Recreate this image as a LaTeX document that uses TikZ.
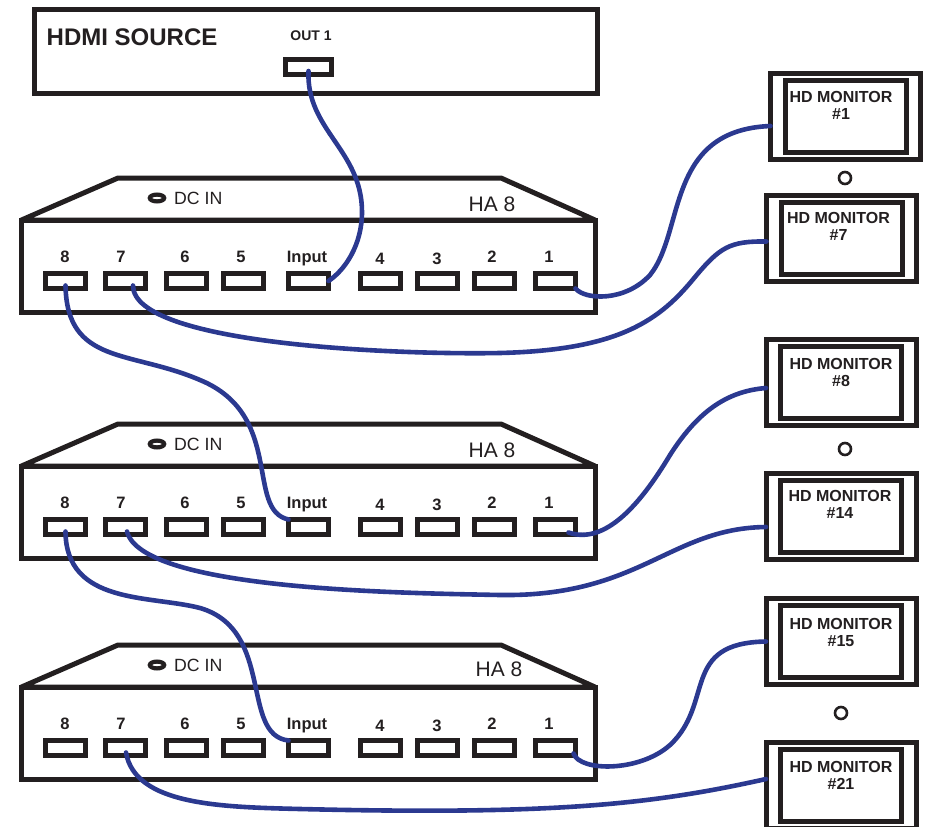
\documentclass[tikz,border=0pt]{standalone}
\usepackage{fontspec}
\setmainfont{Liberation Sans}
\usetikzlibrary{calc}
\definecolor{ink}{HTML}{231F20}
\definecolor{wire}{HTML}{2B3990}
\newcommand{\fs}[1]{\fontsize{#1}{#1}\selectfont}
\tikzset{
  frame/.style={draw=ink,line width=5pt,fill=white,rectangle,inner sep=0pt,outer sep=0pt,miter limit=10},
  portbox/.style={frame,minimum width=40pt,minimum height=15pt},
  screenouter/.style={frame,minimum width=150pt,minimum height=86pt},
  screeninner/.style={frame,minimum width=121pt,minimum height=72pt},
  plabel/.style={text=ink,font=\bfseries\fs{16.5},inner sep=0pt},
  mlabel/.style={text=ink,font=\bfseries\fs{16},inner sep=0pt,align=center},
  plain/.style={text=ink,inner sep=0pt},
  ring/.style={draw=ink,line width=2.6pt,fill=white,circle,minimum size=12pt,inner sep=0pt},
  cable/.style={draw=wire,line width=4.6pt,line cap=round}
}
% #1 prefix, #2 y offset, #3 HA label x, #4 HA label y, #5 DC y
\newcommand{\hub}[5]{%
  \begin{scope}[shift={(0,#2)}]
    \draw[draw=ink,line width=5pt,fill=white,miter limit=10,line join=round]
      (21.5,220) -- (118,178) -- (501,178) -- (595,220) -- cycle;
    \node[frame,minimum width=573.5pt,minimum height=92pt] (#1body) at (308.25,266) {};
    \foreach \n/\x in {8/65.5,7/125,6/186,5/243,in/308.5,4/380,3/437,2/494,1/555.5}{
      \node[portbox] (#1p\n) at (\x,281) {};
    }
    \foreach \n/\t/\lx/\ly in {a/8/65/257,b/7/121/257,c/6/185/257,d/5/241/257,e/Input/307/258.5,f/4/380/259,g/3/437/259,h/2/492/257,i/1/549/257}{
      \node[plabel] (#1lab\n) at (\lx,\ly) {\t};
    }
    \draw[draw=ink,line width=4.2pt] (157,#5) ellipse (7.2pt and 3.4pt);
    \node[plain,font=\fs{17.7},anchor=west] (#1dc) at (174,#5) {DC IN};
    \node[plain,font=\fs{21}] (#1ha) at (#3,#4) {HA 8};
  \end{scope}%
}
% #1 name, #2 frame centre, #3 text centre, #4 text
\newcommand{\screen}[4]{%
  \node[screenouter] (#1o) at #2 {};
  \node[screeninner] (#1i) at #2 {};
  \node[mlabel] (#1t) at #3 {#4};
}
\begin{document}
\begin{tikzpicture}[x=1pt,y=-1pt]
\useasboundingbox (0,0) rectangle (927,827);
% source
\node[frame,minimum width=563pt,minimum height=84pt] (source) at (315.5,51) {};
\node[plain,font=\bfseries\fs{24},anchor=west] (srctitle) at (46.5,37) {HDMI SOURCE};
\node[plain,font=\bfseries\fs{14},yshift=0pt] (srcout) at (311,36) {OUT 1};
\node[portbox,minimum width=45.5pt] (out) at (308.5,66.5) {};
% hubs
\hub{A}{0}{492}{204}{198}
\hub{B}{246}{492}{204}{198}
\hub{C}{467}{499}{202}{198}
% monitors
\screen{m1}{(845.5,116)}{(841,105)}{HD MONITOR\\[1pt]\#1}
\screen{m7}{(841.5,238)}{(838.5,226.5)}{HD MONITOR\\[1pt]\#7}
\screen{m8}{(841,382)}{(841,372.5)}{HD MONITOR\\[1pt]\#8}
\screen{m14}{(841,516.5)}{(840,504.5)}{HD MONITOR\\[1pt]\#14}
\screen{m15}{(841,641.5)}{(841,632)}{HD MONITOR\\[1pt]\#15}
\screen{m21}{(841,785.5)}{(841,775.5)}{HD MONITOR\\[1pt]\#21}
\node[ring] (dots1) at (845,178) {};
\node[ring] (dots2) at (845,449) {};
\node[ring] (dots3) at (841,713) {};
% cables
\draw[cable] ([yshift=3pt]out.south) .. controls (306,130) and (362,150) .. (362,212)
  .. controls (362,245) and (345,270) .. (Apin.east);
\draw[cable] (Ap1.south east) .. controls (585,300) and (625,302) .. (650,275)
  .. controls (685,232) and (665,130) .. ([yshift=-10pt]m1o.west);
\draw[cable] ([xshift=8pt,yshift=3pt]Ap7.south) .. controls (133,345) and (400,355) .. (500,353)
  .. controls (620,350) and (660,320) .. (695,277)
  .. controls (720,247) and (730,241) .. ([yshift=-3.5pt]m7o.west);
\draw[cable] ([yshift=3pt]Ap8.south) .. controls (67,365) and (130,350) .. (200,380)
  .. controls (285,415) and (245,510) .. (Bpin.north west);
\draw[cable] ([xshift=13pt,yshift=2pt]Bp1.south) .. controls (605,545) and (640,505) .. (670,455)
  .. controls (700,408) and (730,391) .. ([yshift=-6pt]m8o.west);
\draw[cable] ([xshift=2pt,yshift=3pt]Bp7.south) .. controls (142,590) and (400,593) .. (500,595)
  .. controls (640,597) and (670,528) .. ([yshift=-10.5pt]m14o.west);
\draw[cable] ([yshift=3pt]Bp8.south) .. controls (66,605) and (150,595) .. (200,608)
  .. controls (275,630) and (240,735) .. (Cpin.north west);
\draw[cable] ([xshift=18pt,yshift=2pt]Cp1.south) .. controls (580,772) and (640,772) .. (670,745)
  .. controls (715,703) and (680,643) .. (m15o.west);
\draw[cable] ([xshift=1pt,yshift=3pt]Cp7.south) .. controls (135,805) and (220,807) .. (300,809)
  .. controls (550,815) and (650,805) .. ([yshift=6.5pt]m21o.west);
\end{tikzpicture}
\end{document}
